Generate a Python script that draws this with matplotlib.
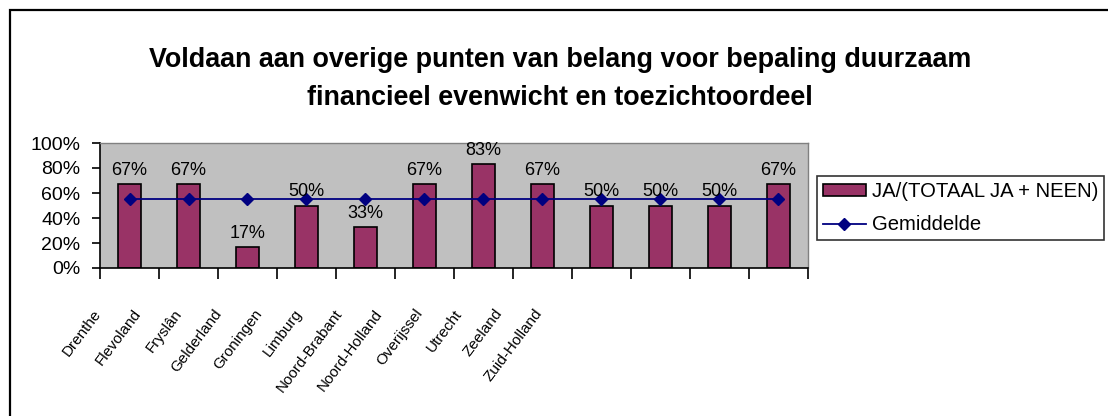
import numpy as np
import matplotlib.pyplot as plt
from matplotlib.patches import Rectangle

# Data
provinces = ["Drenthe", "Flevoland", "Fryslân", "Gelderland", "Groningen", "Limburg",
             "Noord-Brabant", "Noord-Holland", "Overijssel", "Utrecht", "Zeeland", "Zuid-Holland"]
share = [67, 67, 17, 50, 33, 67, 83, 67, 50, 50, 50, 67]
average = [55.6] * 12
bar_name = "JA/(TOTAAL JA + NEEN)"
line_name = "Gemiddelde"
title = "Voldaan aan overige punten van belang voor bepaling duurzaam\nfinancieel evenwicht en toezichtoordeel"

plt.rcParams["font.family"] = ["Liberation Sans", "DejaVu Sans"]

fig = plt.figure(figsize=(11.08, 4.16), dpi=100)
W, H = 1108, 416
ax = fig.add_axes([100 / W, 1 - 268 / H, 708 / W, 125 / H])

# outer chart border
fig.patches.append(Rectangle((10 / W, -0.05), 1.2, (406 / H) + 0.05, transform=fig.transFigure,
                             fill=False, edgecolor="black", linewidth=1.6))

x = np.arange(len(provinces))
bars = ax.bar(x, share, width=0.4, color="#993366", edgecolor="black", linewidth=1.2,
              label=bar_name, zorder=2)
line, = ax.plot(x, average, color="#000080", marker="D", markersize=6.5, linewidth=1.3,
                label=line_name, zorder=3)

for xi, v in zip(x, share):
    ax.text(xi, v + 4, f"{v}%", ha="center", va="bottom", fontsize=13)

ax.set_facecolor("#c0c0c0")
ax.set_xlim(-0.5, len(provinces) - 0.5)
ax.set_ylim(0, 100)
ax.set_yticks(range(0, 101, 20))
ax.set_yticklabels([f"{t}%" for t in range(0, 101, 20)], fontsize=14)
ax.set_xticks(np.arange(-0.5, len(provinces), 1))
ax.set_xticklabels([])
ax.tick_params(axis="x", direction="out", length=8, width=1.2)
ax.tick_params(axis="y", direction="out", length=6, width=1.2, pad=8)
for side in ["top", "right"]:
    ax.spines[side].set_color("#808080")
    ax.spines[side].set_linewidth(1)
for side in ["left", "bottom"]:
    ax.spines[side].set_color("black")
    ax.spines[side].set_linewidth(1.2)

# category labels, squeezed to the left as in the source
for i, name in enumerate(provinces):
    ax.text(-0.62 + i * 0.68, -31, name, rotation=53, rotation_mode="anchor",
            ha="right", va="top", fontsize=11, clip_on=False)

fig.text(560 / W, 1 - 79 / H, title, ha="center", va="center", fontsize=19.4,
         fontweight="bold", linespacing=1.6)

leg = fig.legend(handles=[bars, line], loc="upper left", bbox_to_anchor=(817 / W, 1 - 176 / H),
                 frameon=True, fancybox=False, edgecolor="black", fontsize=14.6,
                 handlelength=2.1, handleheight=0.5, handletextpad=0.3, borderpad=0.3,
                 borderaxespad=0, labelspacing=0.7)
leg.get_frame().set_linewidth(1.2)

fig.savefig("out.png", dpi=100)
